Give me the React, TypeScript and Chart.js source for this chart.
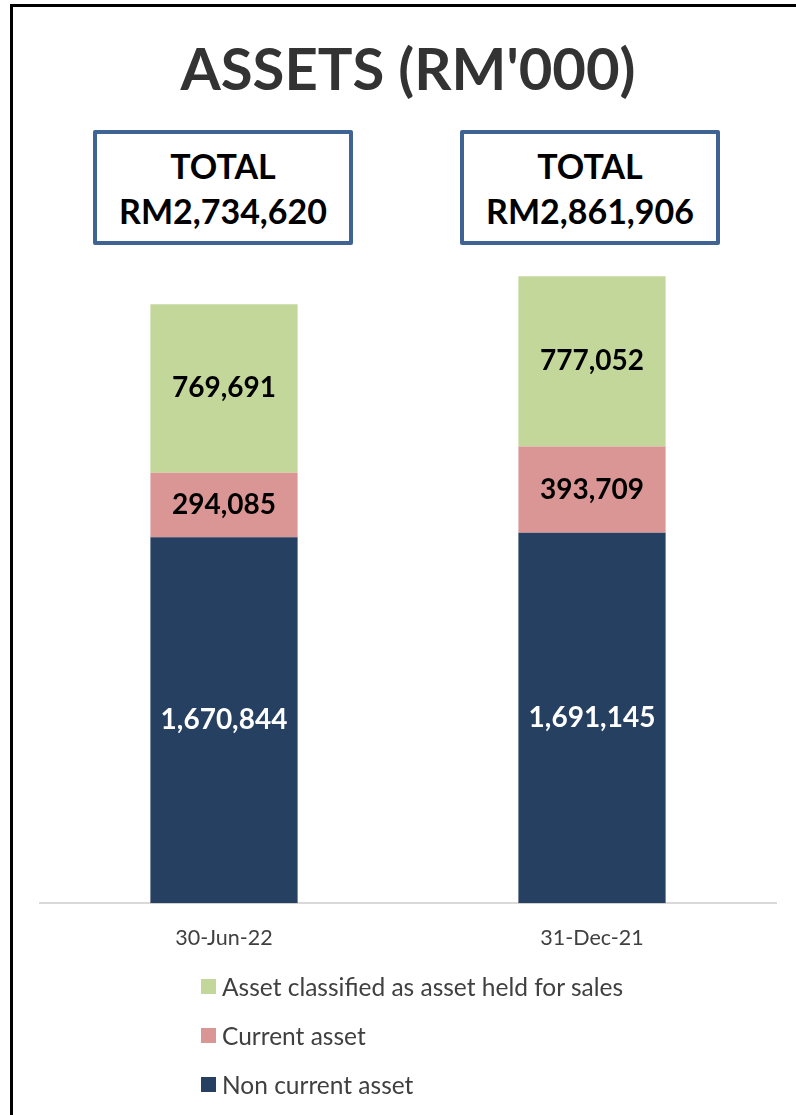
import React, { useEffect, useRef } from "react";
import { Chart, registerables } from "chart.js";

Chart.register(...registerables);

const categories = ["30-Jun-22", "31-Dec-21"];
const nonCurrentAsset = [1670844, 1691145];
const currentAsset = [294085, 393709];
const heldForSale = [769691, 777052];
const seriesNames = ["Non current asset", "Current asset", "Asset classified as asset held for sales"];
const seriesColors = ["#264061", "#DA9694", "#C4D79B"];
const labelColors = ["#FFFFFF", "#000000", "#000000"];
const totals = [2734620, 2861906];
const yMax = 3000000;

const FONT = "Lato, 'Open Sans', sans-serif";

const fmt = (v: number) => v.toLocaleString("en-US");

const labelPlugin = {
  id: "segLabels",
  afterDatasetsDraw(chart: any) {
    const ctx = chart.ctx;
    ctx.save();
    ctx.font = `bold 28px ${FONT}`;
    ctx.textAlign = "center";
    ctx.textBaseline = "middle";
    chart.data.datasets.forEach((ds: any, di: number) => {
      const meta = chart.getDatasetMeta(di);
      meta.data.forEach((el: any, i: number) => {
        const cy = (el.y + el.base) / 2;
        ctx.fillStyle = labelColors[di];
        ctx.fillText(fmt(ds.data[i]), el.x, cy);
      });
    });
    ctx.restore();
  },
};

export default function App() {
  const ref = useRef<HTMLCanvasElement>(null);
  useEffect(() => {
    const chart = new Chart(ref.current!, {
      type: "bar",
      data: {
        labels: categories,
        datasets: [nonCurrentAsset, currentAsset, heldForSale].map((d, i) => ({
          label: seriesNames[i],
          data: d,
          backgroundColor: seriesColors[i],
          borderWidth: 0,
          barPercentage: 0.4,
          categoryPercentage: 1,
        })),
      },
      options: {
        responsive: false,
        animation: false,
        layout: { padding: { left: 40, right: 20, top: 6, bottom: 11 } },
        plugins: { legend: { display: false }, tooltip: { enabled: false } },
        scales: {
          x: {
            stacked: true,
            grid: { display: false, drawTicks: false },
            border: { display: true, color: "#D9D9D9", width: 2 },
            ticks: { color: "#404040", font: { family: FONT, size: 21.5 }, padding: 22 },
          },
          y: { stacked: true, display: false, min: 0, max: yMax },
        },
      },
      plugins: [labelPlugin],
    });
    return () => chart.destroy();
  }, []);

  const boxLefts = [93, 460];
  return (
    <div style={{ position: "absolute", left: 0, top: 0, width: 796, height: 1115, background: "#fff", overflow: "hidden", fontFamily: FONT }}>
      <div style={{ position: "absolute", left: 10, top: 4, width: 800, height: 1120, borderLeft: "3px solid #000", borderTop: "3px solid #000" }} />
      <div style={{ position: "absolute", left: 0, width: 816, top: 30, textAlign: "center", fontSize: 58, fontWeight: 700, color: "#333333", lineHeight: "76px" }}>
        ASSETS (RM'000)
      </div>
      {totals.map((t, i) => (
        <div key={i} style={{ position: "absolute", left: boxLefts[i], top: 130, width: 252, height: 98, border: "4px solid #3F6392", borderRadius: 2, textAlign: "center", fontWeight: 700, fontSize: 34, color: "#000", lineHeight: "45px", paddingTop: 9, boxSizing: "content-box" }}>
          <div>TOTAL</div>
          <div>RM{fmt(t)}</div>
        </div>
      ))}
      <canvas ref={ref} width={796} height={744} style={{ position: "absolute", left: 0, top: 240 }} />
      <div style={{ position: "absolute", left: 201, top: 962 }}>
        {[2, 1, 0].map((si) => (
          <div key={si} style={{ display: "flex", alignItems: "center", height: 49, fontSize: 24.5, color: "#404040" }}>
            <span style={{ display: "inline-block", width: 15, height: 15, background: seriesColors[si], marginRight: 6 }} />
            {seriesNames[si]}
          </div>
        ))}
      </div>
    </div>
  );
}
